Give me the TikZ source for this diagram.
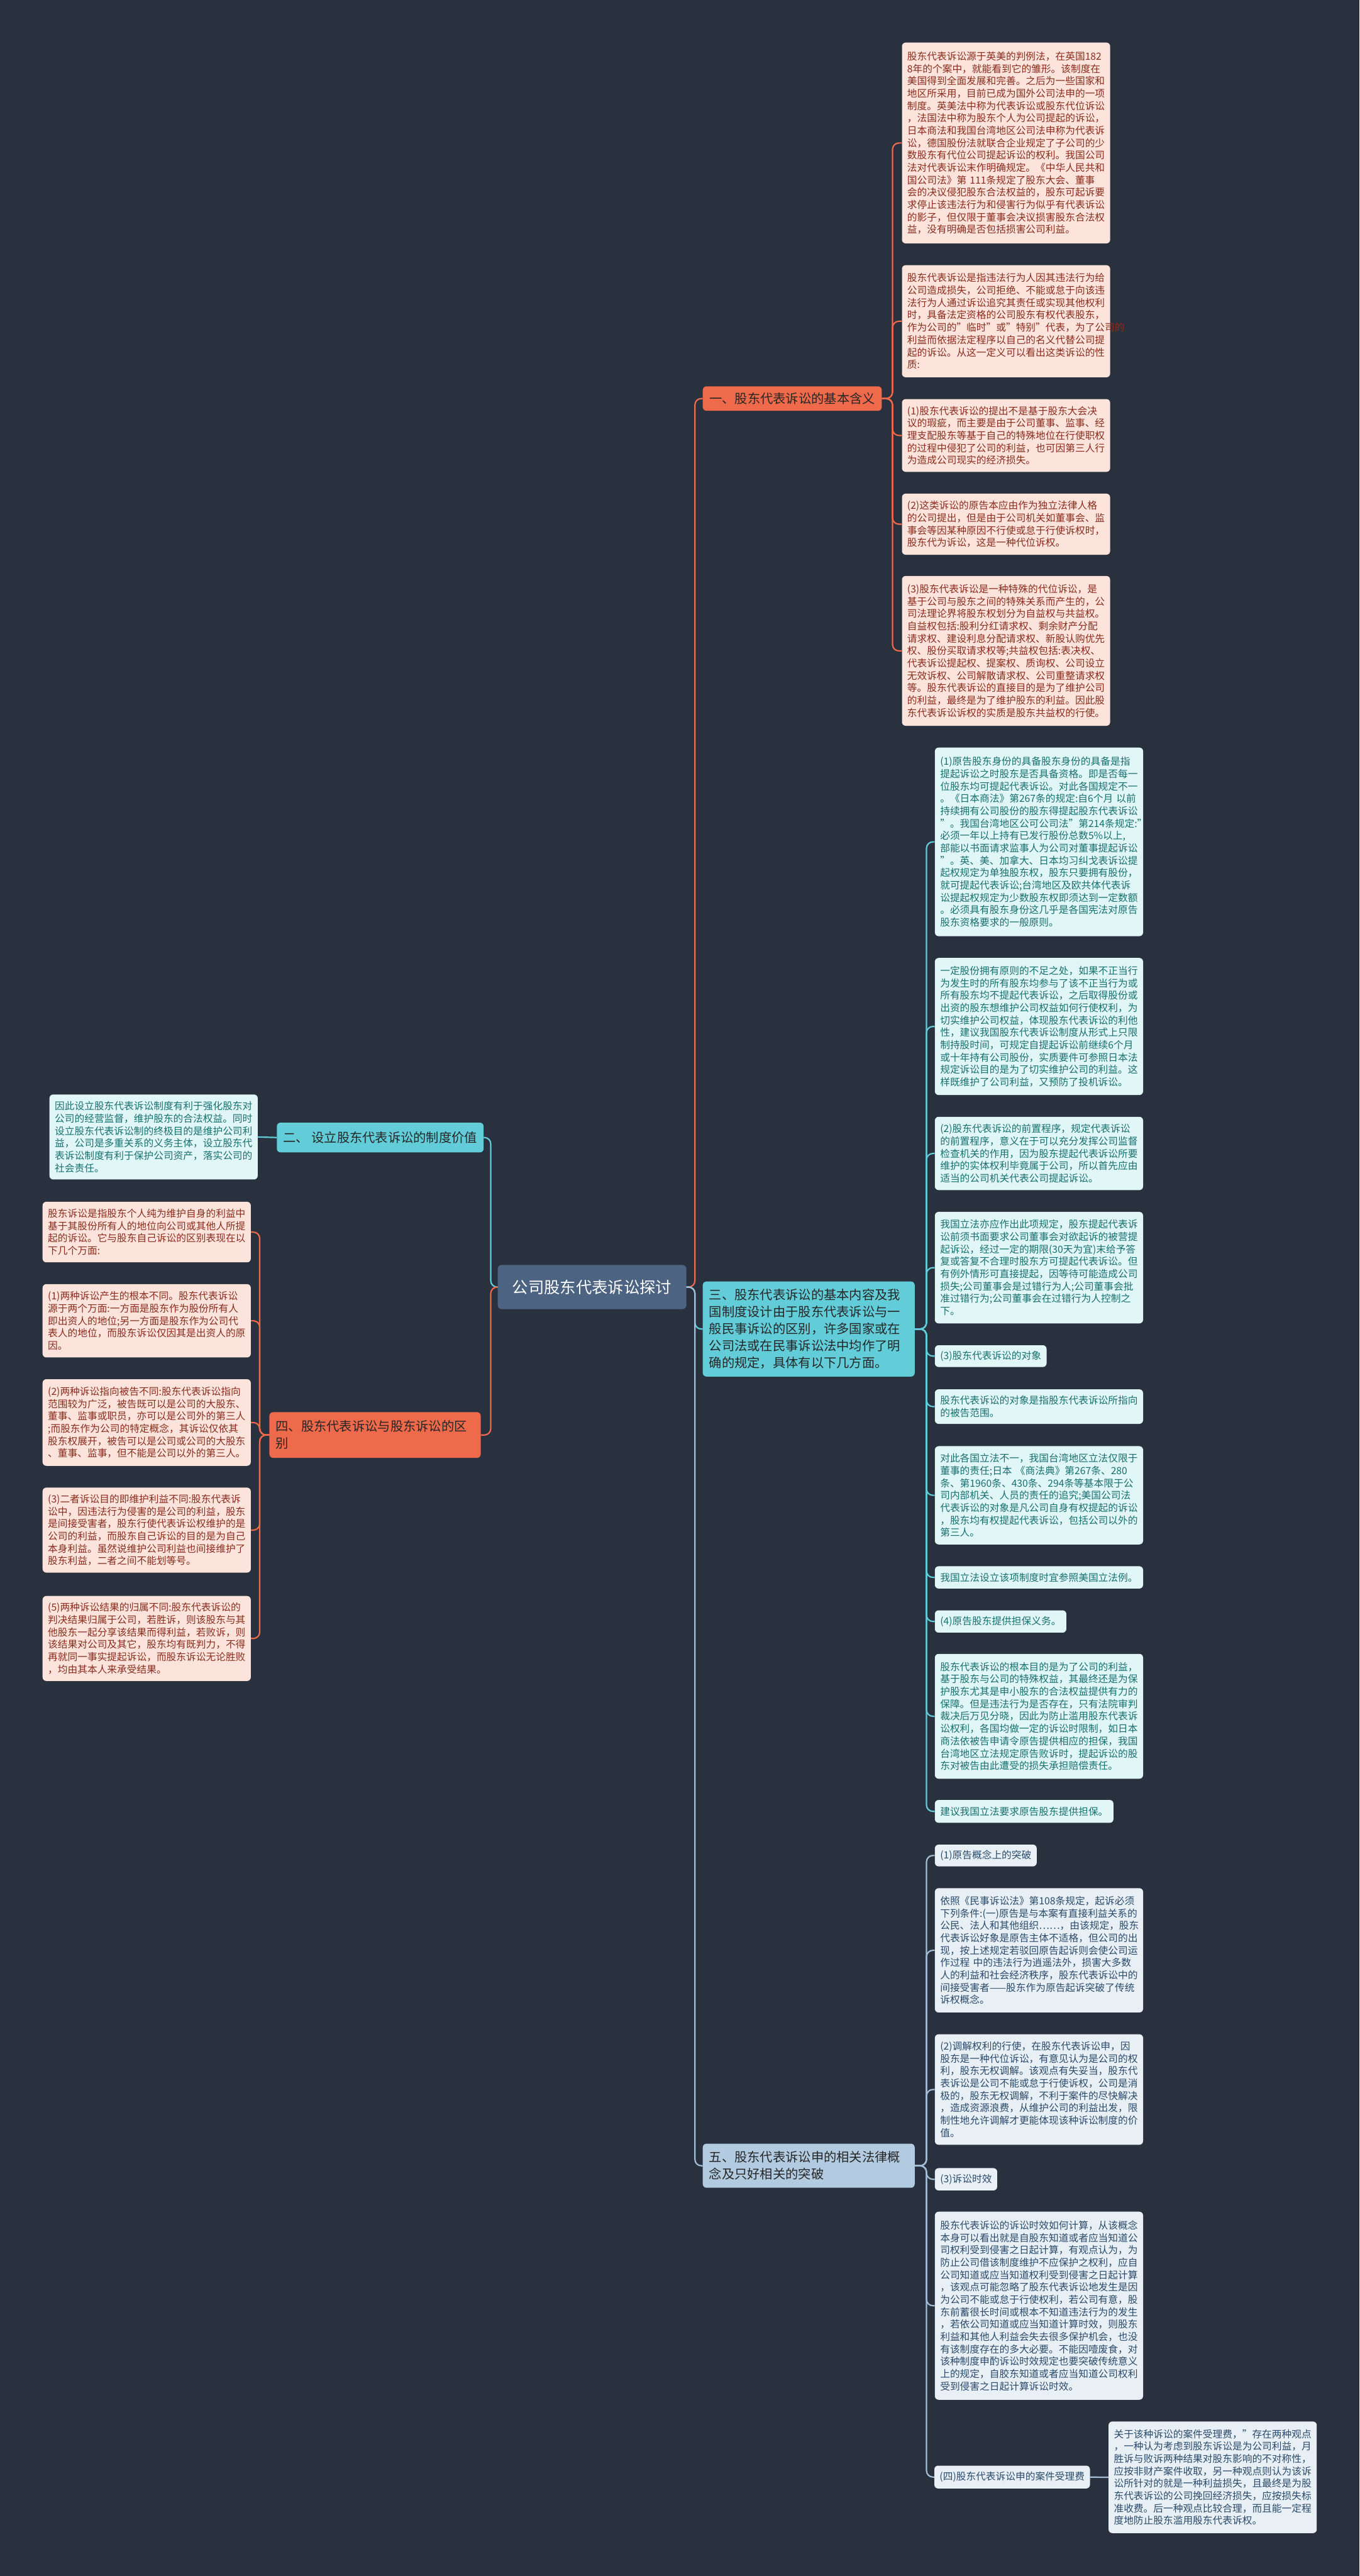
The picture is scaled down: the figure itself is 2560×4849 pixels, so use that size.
\documentclass[tikz,border=0pt]{standalone}
\usepackage{fontspec}
\setmainfont{Noto Sans CJK SC}
\definecolor{bg}{HTML}{29303E}
\definecolor{orn}{HTML}{EE6A4B}
\definecolor{pinkfill}{HTML}{FCE4DD}
\definecolor{pinktext}{HTML}{8A2C1C}
\definecolor{teal}{HTML}{62CDD8}
\definecolor{cyanfill}{HTML}{E1F6F7}
\definecolor{tealtext}{HTML}{17706F}
\definecolor{slate}{HTML}{B3CBE0}
\definecolor{slateline}{HTML}{A3BED6}
\definecolor{bluefill}{HTML}{E8F0F6}
\definecolor{bluetext}{HTML}{2A4A6A}
\definecolor{centerfill}{HTML}{4D6382}
\tikzset{
  box/.style={rounded corners=7pt, inner xsep=10pt, inner ysep=3pt, align=left,
    anchor=north west, font=\fontsize{18.6}{23.3}\selectfont},
  wide/.style={text width=372pt},
  pbox/.style={box, fill=pinkfill, text=pinktext},
  cbox/.style={box, fill=cyanfill, text=tealtext},
  bbox/.style={box, fill=bluefill, text=bluetext},
  lvl/.style={rounded corners=7pt, inner xsep=12pt, inner ysep=3pt, align=left,
    anchor=north west, font=\fontsize{24}{32}\selectfont, text=black!85},
  oline/.style={draw=orn, line width=2.6pt, rounded corners=12pt},
  tline/.style={draw=teal, line width=2.6pt, rounded corners=12pt},
  sline/.style={draw=slateline, line width=2.6pt, rounded corners=12pt},
}
\begin{document}
\begin{tikzpicture}[x=1pt,y=-1pt]
\fill[bg] (0,0) rectangle (2560,4849);
\useasboundingbox (0,0) rectangle (2560,4849);

% center
\node[lvl, fill=centerfill, text=white, font=\fontsize{30}{36}\selectfont, minimum width=355pt, minimum height=83pt, align=center] (c) at (937,2381) {公司股东代表诉讼探讨};

% level 1
\node[lvl, fill=orn, minimum width=337pt, minimum height=46pt] (n1) at (1323,727) {一、股东代表诉讼的基本含义};
\node[lvl, fill=teal, text width=375pt, minimum height=179pt] (n3) at (1323,2412) {三、股东代表诉讼的基本内容及我\\国制度设计由于股东代表诉讼与一\\般民事诉讼的区别，许多国家或在\\公司法或在民事诉讼法中均作了明\\确的规定，具体有以下几方面。};
\node[lvl, fill=slate, text width=375pt, minimum height=83pt] (n5) at (1323,4035) {五、股东代表诉讼申的相关法律概\\念及只好相关的突破};
\node[lvl, fill=teal, minimum width=384pt, minimum height=56pt] (n2) at (521,2113) {二、 设立股东代表诉讼的制度价值};
\node[lvl, fill=orn, text width=374pt, minimum height=86pt] (n4) at (507,2658) {四、股东代表诉讼与股东诉讼的区\\别};

% group 一
\node[pbox, wide, minimum height=378pt] (a1) at (1698,80) {股东代表诉讼源于英美的判例法，在英国182\\8年的个案中，就能看到它的雏形。该制度在\\美国得到全面发展和完善。之后为一些国家和\\地区所采用，目前已成为国外公司法申的一项\\制度。英美法中称为代表诉讼或股东代位诉讼\\，法国法中称为股东个人为公司提起的诉讼，\\日本商法和我国台湾地区公司法申称为代表诉\\讼，德国股份法就联合企业规定了子公司的少\\数股东有代位公司提起诉讼的权利。我国公司\\法对代表诉讼末作明确规定。《中华人民共和\\国公司法》第 111条规定了股东大会、董事\\会的决议侵犯股东合法权益的，股东可起诉要\\求停止该违法行为和侵害行为似乎有代表诉讼\\的影子，但仅限于董事会决议损害股东合法权\\益，没有明确是否包括损害公司利益。};
\node[pbox, wide, minimum height=211pt] (a2) at (1698,499) {股东代表诉讼是指违法行为人因其违法行为给\\公司造成损失，公司拒绝、不能或怠于向该违\\法行为人通过诉讼追究其责任或实现其他权利\\时，具备法定资格的公司股东有权代表股东，\\作为公司的"临时"或"特别"代表，为了公司的\\利益而依据法定程序以自己的名义代替公司提\\起的诉讼。从这一定义可以看出这类诉讼的性\\质:};
\node[pbox, wide, minimum height=137pt] (a3) at (1698,751) {(1)股东代表诉讼的提出不是基于股东大会决\\议的瑕疵，而主要是由于公司董事、监事、经\\理支配股东等基于自己的特殊地位在行使职权\\的过程中侵犯了公司的利益，也可因第三人行\\为造成公司现实的经济损失。};
\node[pbox, wide, minimum height=115pt] (a4) at (1698,929) {(2)这类诉讼的原告本应由作为独立法律人格\\的公司提出，但是由于公司机关如董事会、监\\事会等因某种原因不行使或怠于行使诉权时，\\股东代为诉讼，这是一种代位诉权。};
\node[pbox, wide, minimum height=282pt] (a5) at (1698,1084) {(3)股东代表诉讼是一种特殊的代位诉讼，是\\基于公司与股东之间的特殊关系而产生的，公\\司法理论界将股东权划分为自益权与共益权。\\自益权包括:股利分红请求权、剩余财产分配\\请求权、建设利息分配请求权、新股认购优先\\权、股份买取请求权等;共益权包括:表决权、\\代表诉讼提起权、提案权、质询权、公司设立\\无效诉权、公司解散请求权、公司重整请求权\\等。股东代表诉讼的直接目的是为了维护公司\\的利益，最终是为了维护股东的利益。因此股\\东代表诉讼诉权的实质是股东共益权的行使。};

% group 三
\node[cbox, wide, minimum height=355pt] (b1) at (1760,1407) {(1)原告股东身份的具备股东身份的具备是指\\提起诉讼之时股东是否具备资格。即是否每一\\位股东均可提起代表诉讼。对此各国规定不一\\。《日本商法》第267条的规定:自6个月 以前\\持续拥有公司股份的股东得提起股东代表诉讼\\"。我国台湾地区公可公司法"第214条规定:"\\必须一年以上持有已发行股份总数5\%以上,\\部能以书面请求监事人为公司对董事提起诉讼\\"。英、美、加拿大、日本均习纠戈表诉讼提\\起权规定为单独股东权，股东只要拥有股份，\\就可提起代表诉讼;台湾地区及欧共体代表诉\\讼提起权规定为少数股东权即须达到一定数额\\。必须具有股东身份这几乎是各国宪法对原告\\股东资格要求的一般原则。};
\node[cbox, wide, minimum height=258pt] (b2) at (1760,1803) {一定股份拥有原则的不足之处，如果不正当行\\为发生时的所有股东均参与了该不正当行为或\\所有股东均不提起代表诉讼，之后取得股份或\\出资的股东想维护公司权益如何行使权利，为\\切实维护公司权益，体现股东代表诉讼的利他\\性，建议我国股东代表诉讼制度从形式上只限\\制持股时间，可规定自提起诉讼前继续6个月\\或十年持有公司股份，实质要件可参照日本法\\规定诉讼目的是为了切实维护公司的利益。这\\样既维护了公司利益，又预防了投机诉讼。};
\node[cbox, wide, minimum height=138pt] (b3) at (1760,2102) {(2)股东代表诉讼的前置程序，规定代表诉讼\\的前置程序，意义在于可以充分发挥公司监督\\检查机关的作用，因为股东提起代表诉讼所要\\维护的实体权利毕竟属于公司，所以首先应由\\适当的公司机关代表公司提起诉讼。};
\node[cbox, wide, minimum height=210pt] (b4) at (1760,2281) {我国立法亦应作出此项规定，股东提起代表诉\\讼前须书面要求公司董事会对欲起诉的被营提\\起诉讼，经过一定的期限(30天为宜)末给予答\\复或答复不合理时股东方可提起代表诉讼。但\\有例外情形可直接提起，因等待可能造成公司\\损失;公司董事会是过错行为人;公司董事会批\\准过错行为;公司董事会在过错行为人控制之\\下。};
\node[cbox, minimum height=41pt] (b5) at (1760,2532) {(3)股东代表诉讼的对象};
\node[cbox, wide, minimum height=65pt] (b6) at (1760,2615) {股东代表诉讼的对象是指股东代表诉讼所指向\\的被告范围。};
\node[cbox, wide, minimum height=185pt] (b7) at (1760,2722) {对此各国立法不一，我国台湾地区立法仅限于\\董事的责任;日本 《商法典》第267条、280\\条、第1960条、430条、294条等基本限于公\\司内部机关、人员的责任的追究;美国公司法\\代表诉讼的对象是凡公司自身有权提起的诉讼\\，股东均有权提起代表诉讼，包括公司以外的\\第三人。};
\node[cbox, minimum height=42pt] (b8) at (1760,2948) {我国立法设立该项制度时宜参照美国立法例。};
\node[cbox, minimum height=42pt] (b9) at (1760,3031) {(4)原告股东提供担保义务。};
\node[cbox, wide, minimum height=235pt] (b10) at (1760,3113) {股东代表诉讼的根本目的是为了公司的利益，\\基于股东与公司的特殊权益，其最终还是为保\\护股东尤其是申小股东的合法权益提供有力的\\保障。但是违法行为是否存在，只有法院审判\\裁决后万见分晓，因此为防止滥用股东代表诉\\讼权利，各国均做一定的诉讼时限制，如日本\\商法依被告申请令原告提供相应的担保，我国\\台湾地区立法规定原告败诉时，提起诉讼的股\\东对被告由此遭受的损失承担赔偿责任。};
\node[cbox, minimum height=43pt] (b11) at (1760,3388) {建议我国立法要求原告股东提供担保。};

% group 五
\node[bbox, minimum height=41pt] (c1) at (1760,3472) {(1)原告概念上的突破};
\node[bbox, wide, minimum height=234pt] (c2) at (1760,3554) {依照《民事诉讼法》第108条规定，起诉必须\\下列条件:(一)原告是与本案有直接利益关系的\\公民、法人和其他组织……，由该规定，股东\\代表诉讼好象是原告主体不适格，但公司的出\\现，按上述规定若驳回原告起诉则会使公司运\\作过程 中的违法行为逍遥法外，损害大多数\\人的利益和社会经济秩序，股东代表诉讼中的\\间接受害者——股东作为原告起诉突破了传统\\诉权概念。};
\node[bbox, wide, minimum height=208pt] (c3) at (1760,3829) {(2)调解权利的行使，在股东代表诉讼申，因\\股东是一种代位诉讼，有意见认为是公司的权\\利，股东无权调解。该观点有失妥当，股东代\\表诉讼是公司不能或怠于行使诉权，公司是消\\极的，股东无权调解，不利于案件的尽快解决\\，造成资源浪费，从维护公司的利益出发，限\\制性地允许调解才更能体现该种诉讼制度的价\\值。};
\node[bbox, minimum height=42pt] (c4) at (1760,4081) {(3)诉讼时效};
\node[bbox, wide, minimum height=354pt] (c5) at (1760,4163) {股东代表诉讼的诉讼时效如何计算，从该概念\\本身可以看出就是自股东知道或者应当知道公\\司权利受到侵害之日起计算，有观点认为，为\\防止公司借该制度维护不应保护之权利，应自\\公司知道或应当知道权利受到侵害之日起计算\\，该观点可能忽略了股东代表诉讼地发生是因\\为公司不能或怠于行使权利，若公司有意，股\\东前蓄很长时间或根本不知道违法行为的发生\\，若依公司知道或应当知道计算时效，则股东\\利益和其他人利益会失去很多保护机会，也没\\有该制度存在的多大必要。不能因噎废食，对\\该种制度申酌诉讼时效规定也要突破传统意义\\上的规定，自胶东知道或者应当知道公司权利\\受到侵害之日起计算诉讼时效。};
\node[bbox, minimum height=43pt] (c6) at (1759,4641) {(四)股东代表诉讼申的案件受理费};
\node[bbox, wide, minimum height=210pt] (c7) at (2087,4558) {关于该种诉讼的案件受理费，"存在两种观点\\，一种认为考虑到股东诉讼是为公司利益，月\\胜诉与败诉两种结果对股东影响的不对称性，\\应按非财产案件收取，另一种观点则认为该诉\\讼所针对的就是一种利益损失，且最终是为股\\东代表诉讼的公司挽回经济损失，应按损失标\\准收费。后一种观点比较合理，而且能一定程\\度地防止股东滥用殷东代表诉权。};

% group 二 / 四 (left)
\node[cbox, wide, minimum height=160pt] (l0) at (93,2060) {因此设立股东代表诉讼制度有利于强化股东对\\公司的经营监督，维护股东的合法权益。同时\\设立股东代表诉讼制的终极目的是维护公司利\\益，公司是多重关系的义务主体，设立股东代\\表诉讼制度有利于保护公司资产，落实公司的\\社会责任。};
\node[pbox, wide, minimum height=114pt] (d1) at (80,2262) {股东诉讼是指股东个人纯为维护自身的利益中\\基于其股份所有人的地位向公司或其他人所提\\起的诉讼。它与股东自己诉讼的区别表现在以\\下几个万面:};
\node[pbox, wide, minimum height=138pt] (d2) at (80,2417) {(1)两种诉讼产生的根本不同。股东代表诉讼\\源于两个万面:一方面是股东作为股份所有人\\即出资人的地位;另一方面是股东作为公司代\\表人的地位，而股东诉讼仅因其是出资人的原\\因。};
\node[pbox, wide, minimum height=163pt] (d3) at (80,2596) {(2)两种诉讼指向被告不同:股东代表诉讼指向\\范围较为广泛，被告既可以是公司的大股东、\\董事、监事或职员，亦可以是公司外的第三人\\;而股东作为公司的特定概念，其诉讼仅依其\\股东权展开，被告可以是公司或公司的大股东\\、董事、监事，但不能是公司以外的第三人。};
\node[pbox, wide, minimum height=160pt] (d4) at (80,2800) {(3)二者诉讼目的即维护利益不同:股东代表诉\\讼中，因违法行为侵害的是公司的利益，股东\\是间接受害者，股东行使代表诉讼权维护的是\\公司的利益，而股东自己诉讼的目的是为自己\\本身利益。虽然说维护公司利益也间接维护了\\股东利益，二者之间不能划等号。};
\node[pbox, wide, minimum height=160pt] (d5) at (80,3004) {(5)两种诉讼结果的归属不同:股东代表诉讼的\\判决结果归属于公司，若胜诉，则该股东与其\\他股东一起分享该结果而得利益，若败诉，则\\该结果对公司及其它，股东均有既判力，不得\\再就同一事实提起诉讼，而股东诉讼无论胜败\\，均由其本人来承受结果。};

% connectors
\draw[oline] (c.east) -- ++(16,0) |- (n1.west);
\draw[tline] (c.east) -- ++(16,0) |- (n3.west);
\draw[sline] (c.east) -- ++(16,0) |- (n5.west);
\draw[tline] (c.west) -- ++(-13,0) |- (n2.east);
\draw[oline] (c.west) -- ++(-13,0) |- (n4.east);
\foreach \k in {a1,a2,a3,a4,a5} \draw[oline] (n1.east) -- ++(20,0) |- (\k.west);
\foreach \k in {b1,b2,b3,b4,b5,b6,b7,b8,b9,b10,b11} \draw[tline] (n3.east) -- ++(22,0) |- (\k.west);
\foreach \k in {c1,c2,c3,c4,c5,c6} \draw[sline] (n5.east) -- ++(22,0) |- (\k.west);
\draw[sline] (c6.east) -- (c7.west);
\draw[tline] (n2.west) -- (l0.east);
\foreach \k in {d1,d2,d3,d4,d5} \draw[oline] (n4.west) -- ++(-18,0) |- (\k.east);
\end{tikzpicture}
\end{document}
